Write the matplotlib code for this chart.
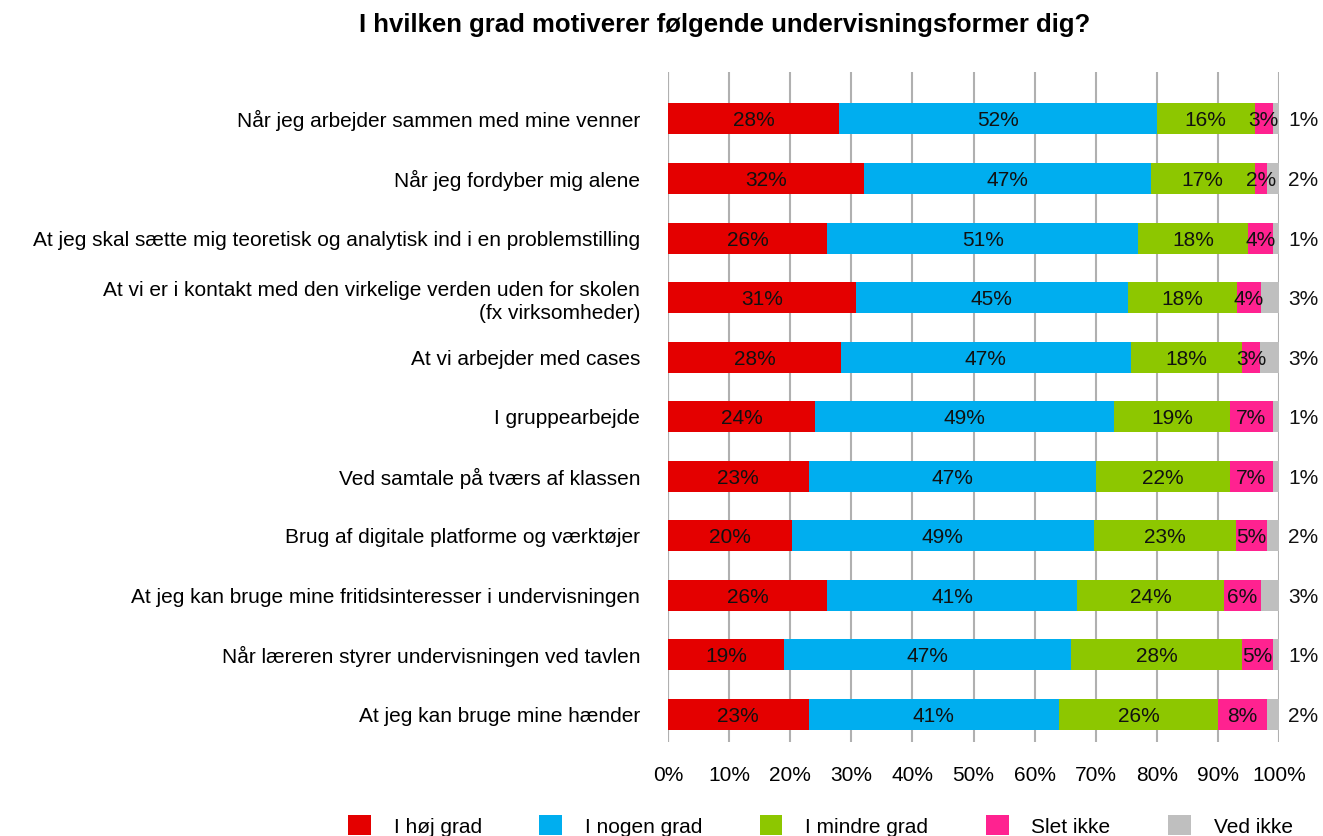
import numpy as np
import matplotlib.pyplot as plt

plt.rcParams['font.family'] = ['Liberation Sans', 'DejaVu Sans']

questions = [
    "Når jeg arbejder sammen med mine venner",
    "Når jeg fordyber mig alene",
    "At jeg skal sætte mig teoretisk og analytisk ind i en problemstilling",
    "At vi er i kontakt med den virkelige verden uden for skolen\n(fx virksomheder)",
    "At vi arbejder med cases",
    "I gruppearbejde",
    "Ved samtale på tværs af klassen",
    "Brug af digitale platforme og værktøjer",
    "At jeg kan bruge mine fritidsinteresser i undervisningen",
    "Når læreren styrer undervisningen ved tavlen",
    "At jeg kan bruge mine hænder",
]
categories = ["I høj grad", "I nogen grad", "I mindre grad", "Slet ikke", "Ved ikke"]

hoej = [28, 32, 26, 31, 28, 24, 23, 20, 26, 19, 23]
nogen = [52, 47, 51, 45, 47, 49, 47, 49, 41, 47, 41]
mindre = [16, 17, 18, 18, 18, 19, 22, 23, 24, 28, 26]
slet = [3, 2, 4, 4, 3, 7, 7, 5, 6, 5, 8]
ved_ikke = [1, 2, 1, 3, 3, 1, 1, 2, 3, 1, 2]

colors = ["#e40000", "#00aeef", "#8dc700", "#ff2290", "#bfbfbf"]

data = np.array([hoej, nogen, mindre, slet, ved_ikke], dtype=float)
shares = data / data.sum(axis=0) * 100

fig = plt.figure(figsize=(13.23, 8.36), dpi=100)
ax = fig.add_axes([0.505, 0.112, 0.4617, 0.802])

y = np.arange(len(questions))
left = np.zeros(len(questions))
for i, cat in enumerate(categories):
    ax.barh(y, shares[i], left=left, height=0.52, color=colors[i], label=cat, zorder=3)
    for j in range(len(questions)):
        if i < len(categories) - 1:
            xpos = left[j] + shares[i][j] / 2
        else:
            xpos = 104
        ax.text(xpos, y[j], f"{int(data[i][j])}%", ha='center', va='center_baseline',
                fontsize=15, color='#111111', zorder=4)
    left += shares[i]

ax.set_xlim(0, 100)
ax.set_ylim(len(questions) - 1 + 0.47, -0.79)
ax.set_xticks(np.arange(0, 101, 10))
ax.set_xticklabels([f"{t}%" for t in range(0, 101, 10)], fontsize=15)
ax.set_yticks(y)
ax.set_yticklabels(questions, fontsize=15, linespacing=1.3)
ax.tick_params(axis='y', length=0, pad=20)
ax.tick_params(axis='x', length=0, pad=17)
ax.grid(axis='x', color='#b0b0b0', linewidth=1.5, zorder=0)
for s in ax.spines.values():
    s.set_visible(False)
ax.axvline(0, color='#b0b0b0', linewidth=1.5, zorder=1)

fig.text(0.548, 0.97, "I hvilken grad motiverer følgende undervisningsformer dig?",
         ha='center', va='center', fontsize=18.5, fontweight='bold')

fig.legend(loc='center', bbox_to_anchor=(0.62, 0.012), ncol=5, frameon=False,
           fontsize=15, handlelength=1.1, handleheight=1.1, handletextpad=1.1,
           columnspacing=2.75)

fig.savefig("out.png", dpi=100)
